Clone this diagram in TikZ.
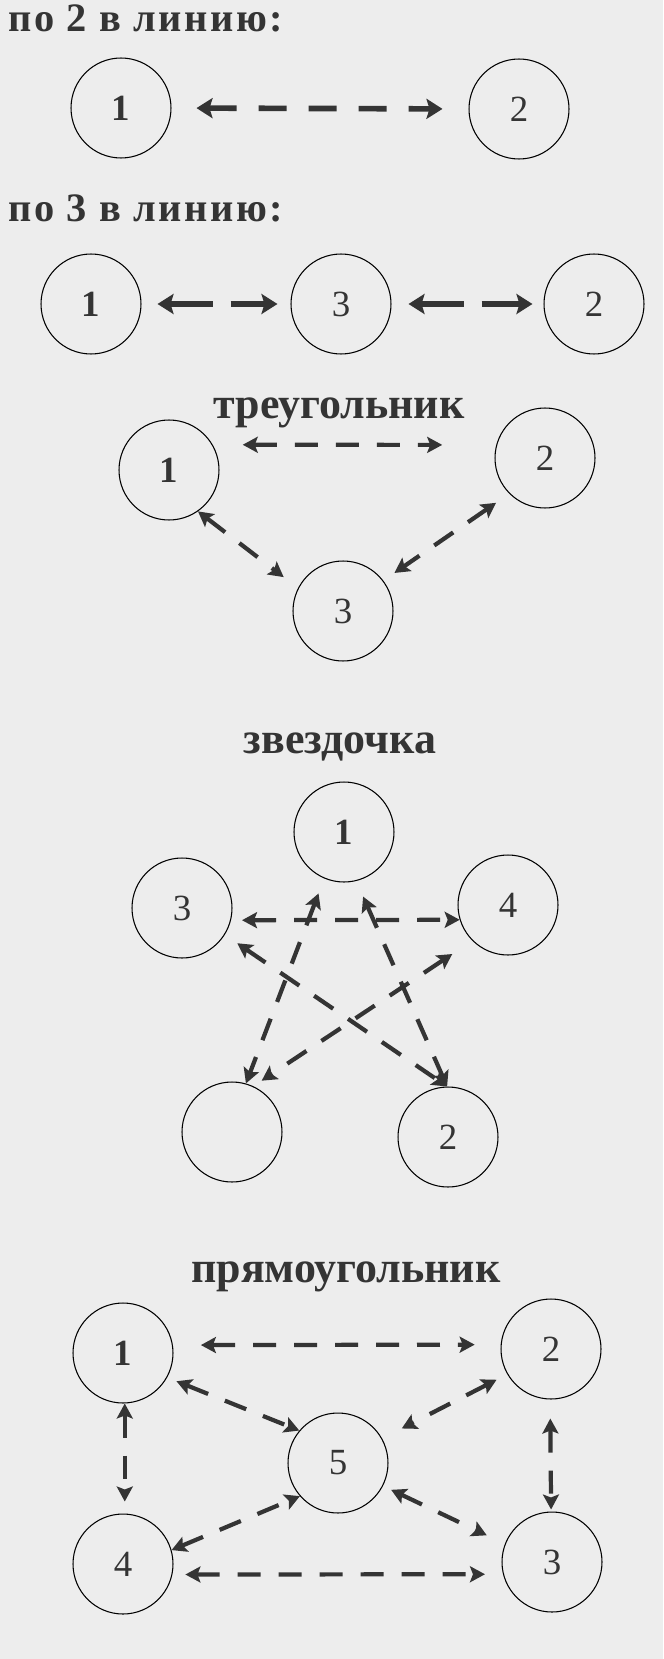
\documentclass[tikz,border=0pt]{standalone}
\usepackage{fontspec}
\setmainfont{Liberation Serif}
\usetikzlibrary{arrows.meta}
\definecolor{paper}{RGB}{237,237,237}
\definecolor{ink}{RGB}{52,52,52}

\begin{document}
\begin{tikzpicture}[x=0.02cm,y=-0.02cm,
  vertex/.style={circle,draw=black,line width=0.6pt,minimum size=2cm,inner sep=0pt,text=ink,font=\fontsize{21}{21}\selectfont},
  heading/.style={text=ink,font=\bfseries\fontsize{25}{25}\selectfont,anchor=base,inner sep=0pt},
  rowhead/.style={heading,anchor=base west,font=\bfseries\fontsize{23}{23}\selectfont\addfontfeatures{LetterSpace=6}},
  link/.style={<->,draw=ink,line width=2.4pt,dash pattern=on 0.46cm off 0.36cm},
  boldlink/.style={link,line width=3.2pt,>={Stealth[length=0.32cm,width=0.4cm,inset=0.06cm]}},
  >={Stealth[length=0.3cm,width=0.32cm,inset=0.06cm]}]
\fill[paper] (0,0) rectangle (663,1659);

\node (h1) at (8,32) [rowhead] {по 2 в линию:};
\node (a1) at (121,108) [vertex] {\textbf{1}};
\node (a2) at (519,109) [vertex] {2};
\draw[boldlink,dash pattern=on 0.56cm off 0.44cm,shorten <=0.5cm,shorten >=0.52cm] (a1.east) -- (a2.west);

\node (h2) at (8,221) [rowhead] {по 3 в линию:};
\node (b1) at (91,304) [vertex] {\textbf{1}};
\node (b3) at (341,304) [vertex] {3};
\node (b2) at (594,304) [vertex] {2};
\draw[boldlink,dash pattern=on 0.86cm off 0.36cm,shorten <=0.32cm,shorten >=0.26cm] (b1.east) -- (b3.west);
\draw[boldlink,dash pattern=on 0.86cm off 0.36cm,shorten <=0.34cm,shorten >=0.22cm] (b3.east) -- (b2.west);

\node (h3) at (339,418) [heading] {треугольник};
\node (t1) at (169,470) [vertex] {\textbf{1}};
\node (t2) at (545,458) [vertex] {2};
\node (t3) at (343,611) [vertex] {3};
\draw[link,shorten <=0.6cm,shorten >=1.08cm] (t1.30) -- (t2.165);
\draw[link,shorten >=0.36cm] (t1.-55) -- (t3.153);
\draw[link,shorten <=0.32cm,shorten >=0.27cm] (t2.225) -- (t3.37);

\node (h4) at (340,753) [heading] {звездочка};
\node (s1) at (344,832) [vertex] {\textbf{1}};
\node (s3) at (182,908) [vertex] {3};
\node (s4) at (508,905) [vertex] {4};
\node (s5) at (232,1132) [vertex] {};
\node (s2) at (448,1137) [vertex] {2};
\draw[link,shorten <=0.22cm] (s3.-14) -- (s4.197);
\draw[link,shorten <=0.32cm] (s1.247) -- (s5.74);
\draw[link,shorten <=0.34cm] (s1.-76) -- (s2.91);
\draw[link,shorten <=0.3cm] (s3.-32) -- (s2.91);
\draw[link,shorten <=0.48cm,shorten >=0.2cm] (s4.225) -- (s5.65);

\node (h5) at (346,1282) [heading] {прямоугольник};
\node (r1) at (123,1353) [vertex] {\textbf{1}};
\node (r2) at (551,1349) [vertex] {2};
\node (r3) at (552,1562) [vertex] {3};
\node (r4) at (123,1564) [vertex] {4};
\node (r5) at (338,1463) [vertex] {5};
\draw[link,shorten <=0.56cm,shorten >=0.52cm] (r1.9) -- (r2.175);
\draw[link,shorten <=0.2cm] (r1.-29) -- (r5.140);
\draw[link,shorten <=0.24cm,shorten >=0.44cm] (r2.210) -- (r5.29);
\draw[link,shorten >=0.24cm] (r1.-88) -- (r4.88);
\draw[link,shorten <=0.38cm,shorten >=0.04cm] (r2.-91) -- (r3.91);
\draw[link] (r4.16) -- (r5.221);
\draw[link,shorten <=0.18cm,shorten >=0.4cm] (r5.-27) -- (r3.159);
\draw[link,shorten <=0.26cm,shorten >=0.36cm] (r4.-12) -- (r3.194);

\end{tikzpicture}
\end{document}
